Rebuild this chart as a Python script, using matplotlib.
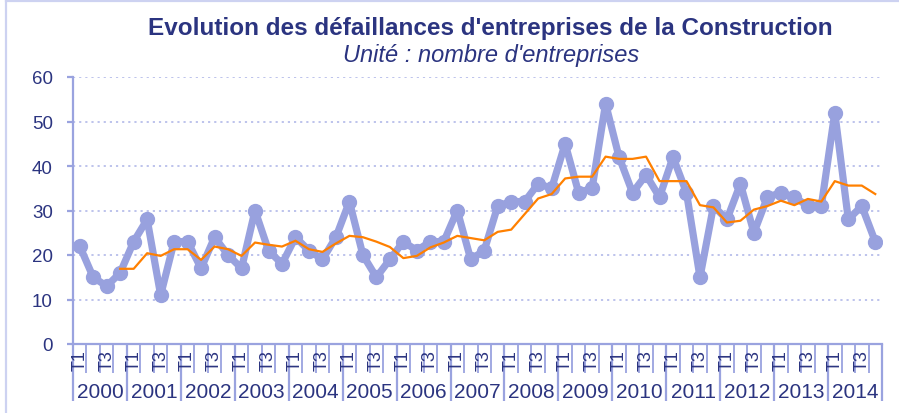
import matplotlib
matplotlib.use("Agg")
import matplotlib.pyplot as plt
from matplotlib.lines import Line2D
from matplotlib.transforms import blended_transform_factory

plt.rcParams['font.family'] = ['Liberation Sans', 'DejaVu Sans']

years = [str(y) for y in range(2000, 2015)]
quarter_labels = ['T1', 'T3']

# défaillances trimestrielles (2000 T1 -> 2014 T4)
defaillances = [22, 15, 13, 16, 23, 28, 11, 23, 23, 17, 24, 20,
                17, 30, 21, 18, 24, 21, 19, 24, 32, 20, 15, 19,
                23, 21, 23, 23, 30, 19, 21, 31, 32, 32, 36, 35,
                45, 34, 35, 54, 42, 34, 38, 33, 42, 34, 15, 31,
                28, 36, 25, 33, 34, 33, 31, 31, 52, 28, 31, 23]

# moyenne mobile (à partir de 2000 T4)
moyenne = [16.9, 16.9, 20.4, 19.8, 21.3, 21.3, 18.9, 21.9, 21.3,
           19.8, 22.8, 22.3, 21.9, 23.2, 21.3, 20.7, 22.6, 24.3, 24.0,
           23.0, 21.8, 19.3, 19.8, 21.7, 22.8, 24.3, 23.8, 23.3, 25.2,
           25.7, 29.2, 32.7, 33.7, 37.2, 37.6, 37.6, 42.1, 41.6, 41.6,
           42.1, 36.6, 36.6, 36.6, 31.2, 30.7, 27.3, 27.7, 30.2, 31.0,
           32.2, 31.2, 32.6, 32.0, 36.6, 35.6, 35.6, 33.7]

navy = '#2B3480'
axis_col = '#9AA3DF'
grid_col = '#B8BEEA'

fig = plt.figure(figsize=(8.99, 4.14), dpi=100)
ax = fig.add_axes([73 / 899, 69 / 414, (882 - 73) / 899, (345 - 78) / 414])

n = len(defaillances)
x = list(range(n))
ax.plot(x, defaillances, color='#98A1DE', lw=5.2, marker='o', ms=10,
        solid_joinstyle='round', zorder=3)
ax.plot(x[n - len(moyenne):], moyenne, color='#FF8000', lw=1.6, zorder=4)

ax.set_xlim(-0.5, n - 0.5)
ax.set_ylim(0, 60)
ax.set_yticks(range(0, 61, 10))
ax.yaxis.grid(True, color=grid_col, ls=(0, (1.2, 2.2)), lw=1.3)
ax.set_axisbelow(True)

for s in ['top', 'right']:
    ax.spines[s].set_visible(False)
for s in ['left', 'bottom']:
    ax.spines[s].set_color(axis_col)
    ax.spines[s].set_linewidth(1.6)

ax.tick_params(axis='y', colors=axis_col, length=4.5, width=1.6,
               labelcolor=navy, labelsize=13.5, pad=10)

# séparateurs trimestres (courts) et années (longs)
ax.set_xticks([i - 0.5 for i in range(0, n + 1, 4)])
ax.set_xticks([i - 0.5 for i in range(n + 1) if i % 4], minor=True)
ax.tick_params(axis='x', which='major', length=41, width=1.6, color=axis_col,
               labelbottom=False)
ax.tick_params(axis='x', which='minor', length=21, width=1.3, color=axis_col,
               labelbottom=False)

trans = blended_transform_factory(ax.transData, ax.transAxes)
for k, yr in enumerate(years):
    for j, q in enumerate(quarter_labels):
        ax.text(4 * k + 2 * j, -0.02, q, transform=trans, rotation=90,
                ha='center', va='top', color=navy, fontsize=13)
    ax.text(4 * k + 1.5, -0.177, yr, transform=trans, ha='center',
            va='center', color=navy, fontsize=15)

fig.text(0.545, 0.932, "Evolution des défaillances d'entreprises de la Construction",
         ha='center', va='center', color=navy, fontsize=17.5, fontweight='bold')
fig.text(0.546, 0.867, "Unité : nombre d'entreprises", ha='center',
         va='center', color=navy, fontsize=17, style='italic')

# cadre du graphique
fig.add_artist(Line2D([5.5 / 899, 5.5 / 899], [0, 1 - 2 / 414],
                      transform=fig.transFigure, color='#CDD2F1', lw=1.6))
fig.add_artist(Line2D([5.5 / 899, 1], [1 - 2 / 414, 1 - 2 / 414],
                      transform=fig.transFigure, color='#CDD2F1', lw=1.6))

fig.savefig('out.png', dpi=100)
